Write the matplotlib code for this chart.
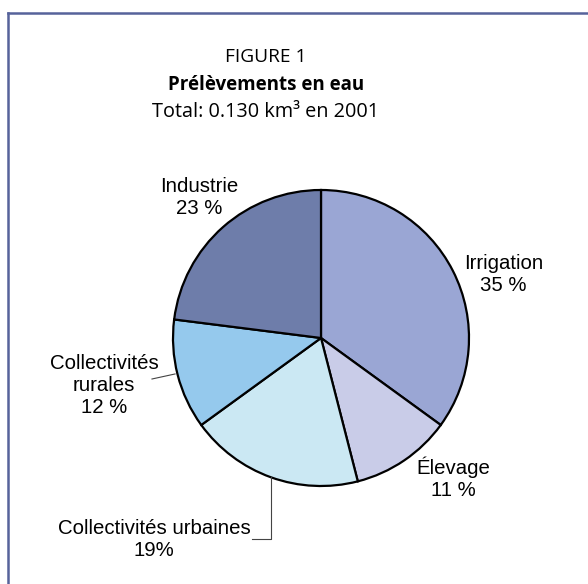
import matplotlib.pyplot as plt
from matplotlib.lines import Line2D

# share of water withdrawals, clockwise from 12 o'clock
sectors = ["Irrigation", "Élevage", "Collectivités urbaines", "Collectivités rurales", "Industrie"]
shares = [35, 11, 19, 12, 23]
labels = ["Irrigation\n35 %", "Élevage\n11 %", "Collectivités urbaines\n19%",
          "Collectivités\nrurales\n12 %", "Industrie\n23 %"]
colors = ["#9aa6d4", "#c9cce8", "#cbe8f3", "#95c9ed", "#6e7daa"]

# label anchor points in pie data units (radius = 1)
label_pos = [(1.234, 0.432), (0.892, -0.946), (-1.128, -1.361), (-1.466, -0.318), (-0.82, 0.95)]

W, H = 588, 584
fig = plt.figure(figsize=(W / 100, H / 100), dpi=100)
fig.patch.set_facecolor("white")

# frame: only top and left edges are visible
border = "#56639b"
fig.add_artist(Line2D([8 / W, 1], [1 - 13 / H, 1 - 13 / H], color=border, lw=1.8,
                      transform=fig.transFigure))
fig.add_artist(Line2D([8 / W, 8 / W], [0, 1 - 13 / H], color=border, lw=1.8,
                      transform=fig.transFigure))

# titles
tfont = ["Open Sans", "DejaVu Sans"]
tx = 266 / W
fig.text(tx, 1 - 57 / H, "FIGURE 1", ha="center", va="center", fontsize=13.8, family=tfont)
fig.text(tx, 1 - 85 / H, "Prélèvements en eau", ha="center", va="center", fontsize=13.5,
         fontweight="bold", family=tfont)
fig.text(tx, 1 - 112 / H, "Total: 0.130 km³ en 2001", ha="center", va="center", fontsize=14.3,
         family=tfont)

# pie centred at (321, 338) px, radius 148 px
cx, cy, r = 321, 338, 148
ax = fig.add_axes([(cx - r) / W, (H - cy - r) / H, 2 * r / W, 2 * r / H])
ax.pie(shares, colors=colors, startangle=90, counterclock=False, radius=1,
       wedgeprops=dict(edgecolor="black", linewidth=1.6))
ax.set_xlim(-1, 1)
ax.set_ylim(-1, 1)
ax.set_aspect("equal")
ax.axis("off")

for lab, (x, y) in zip(labels, label_pos):
    ax.text(x, y, lab, ha="center", va="center", fontsize=14.7, family="Liberation Sans",
            linespacing=1.2, clip_on=False)

# leader lines
ax.plot([-1.142, -0.986], [-0.277, -0.243], color="#444444", lw=0.8, clip_on=False)
ax.plot([-0.466, -0.34, -0.34], [-1.358, -1.358, -0.94], color="#444444", lw=0.8,
        clip_on=False)

fig.savefig("out.png", dpi=100)
